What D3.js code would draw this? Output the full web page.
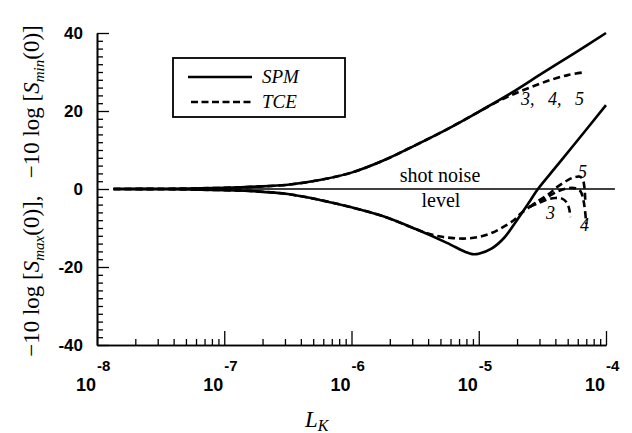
<!DOCTYPE html>
<html>
<head>
<meta charset="utf-8">
<script src="https://cdn.jsdelivr.net/npm/d3@7"></script>
<style>
  body { margin: 0; background: #fff; }
  svg { display: block; }
  text { fill: #000; }
</style>
</head>
<body>
<svg id="chart" width="632" height="433"></svg>
<script>
// data: [log10(L_K), dB]
const spmUpper = [[-7.87, 0], [-7.5, 0.05], [-7, 0.3], [-6.75, 0.6], [-6.5, 1.1], [-6.25, 2.3],
  [-6, 4.2], [-5.75, 7.3], [-5.5, 11.2], [-5.25, 15.3], [-5, 19.8], [-4.75, 24.5],
  [-4.5, 29.7], [-4.25, 34.8], [-4, 40]];
const spmLower = [[-7.87, 0], [-7.5, -0.05], [-7, -0.3], [-6.75, -0.6], [-6.5, -1.3], [-6.25, -2.8],
  [-6, -4.7], [-5.75, -7.0], [-5.5, -10.2], [-5.25, -13.8], [-5.1, -16.2], [-5.05, -16.7],
  [-5, -16.6], [-4.9, -15.3], [-4.8, -12.5], [-4.7, -8.0], [-4.6, -3.2], [-4.535, 0],
  [-4.4, 5.4], [-4.25, 11.4], [-4, 21.5]];
const tceUpper = [[-7.87, 0], [-7.5, 0.05], [-7, 0.3], [-6.75, 0.6], [-6.5, 1.1], [-6.25, 2.3],
  [-6, 4.2], [-5.75, 7.3], [-5.5, 11.2], [-5.25, 15.3], [-5, 19.8], [-4.9, 21.6],
  [-4.75, 24.0], [-4.6, 26.0], [-4.45, 27.8], [-4.3, 29.2], [-4.16, 30.0]];
const tceLowerCommon = [[-7.87, 0], [-7.5, -0.05], [-7, -0.3], [-6.75, -0.6], [-6.5, -1.3],
  [-6.25, -2.8], [-6, -4.7], [-5.75, -7.0], [-5.5, -10.2], [-5.4, -11.4], [-5.3, -12.2],
  [-5.2, -12.6], [-5.1, -12.7], [-5, -12.3], [-4.9, -11.3], [-4.8, -9.6], [-4.72, -7.9],
  [-4.67, -6.3], [-4.6, -4.6]];
const tce3 = [[-4.6, -4.6], [-4.53, -3.6], [-4.45, -2.6], [-4.4, -2.3], [-4.35, -2.4],
  [-4.31, -3.4], [-4.29, -5.0], [-4.28, -7.2]];
const tce4 = [[-4.6, -4.6], [-4.53, -3.3], [-4.45, -1.9], [-4.38, -0.6], [-4.3, 0.2],
  [-4.24, 0.2], [-4.2, -0.6], [-4.18, -2.5], [-4.165, -5.5], [-4.155, -9.0]];
const tce5 = [[-4.6, -4.6], [-4.53, -3.0], [-4.45, -1.3], [-4.38, 0.6], [-4.3, 2.3],
  [-4.24, 3.1], [-4.2, 3.1], [-4.18, 2.2], [-4.17, 0.5], [-4.165, -1.5], [-4.163, -3]];
const shotNoise = [[-7.87, 0], [-3.93, 0]];

const xTicks = [1e-8, 1e-7, 1e-6, 1e-5, 1e-4];
const xExponents = ["-8", "-7", "-6", "-5", "-4"];
const yTicks = [-40, -20, 0, 20, 40];
const legendNames = ["SPM", "TCE"];

const svg = d3.select("#chart");

// scales
const x = d3.scaleLog().domain([1e-8, 1e-4]).range([97, 606]);
const y = d3.scaleLinear().domain([-40, 40]).range([345, 33]);

const line = d3.line()
  .x(d => x(Math.pow(10, d[0])))
  .y(d => y(d[1]))
  .curve(d3.curveCatmullRom.alpha(0.5));

// minor tick values
const xMinor = [];
for (let e = -8; e < -4; e++) {
  for (let m = 2; m <= 9; m++) xMinor.push(m * Math.pow(10, e));
}
const yMinor = d3.range(-40, 41, 2).filter(v => v % 20 !== 0);

const axisStyle = g => {
  g.selectAll("path").attr("stroke", "#000").attr("stroke-width", 1.6);
  g.selectAll("line").attr("stroke", "#000").attr("stroke-width", 1.3);
};

// y axis
svg.append("g")
  .attr("transform", "translate(97,0)")
  .call(d3.axisLeft(y).tickValues(yMinor).tickSizeInner(-6).tickSizeOuter(0).tickFormat(""))
  .call(axisStyle);
svg.append("g")
  .attr("transform", "translate(97,0)")
  .call(d3.axisLeft(y).tickValues(yTicks).tickSizeInner(-12).tickSizeOuter(0).tickPadding(14))
  .call(axisStyle)
  .call(g => g.selectAll("text")
    .attr("font-family", "'Liberation Sans', Arial, sans-serif")
    .attr("font-weight", "bold")
    .attr("font-size", 17)
    .attr("fill", "#000")
    .text(d => d < 0 ? "-" + Math.abs(d) : d));

// x axis
svg.append("g")
  .attr("transform", "translate(0,345)")
  .call(d3.axisBottom(x).tickValues(xMinor).tickSizeInner(-6).tickSizeOuter(0).tickFormat(""))
  .call(axisStyle);
svg.append("g")
  .attr("transform", "translate(0,345)")
  .call(d3.axisBottom(x).tickValues(xTicks).tickSizeInner(-14).tickSizeOuter(0).tickFormat(""))
  .call(axisStyle);

const xLabels = svg.append("g")
  .attr("font-family", "'Liberation Sans', Arial, sans-serif")
  .attr("font-weight", "bold");
xTicks.forEach((t, i) => {
  xLabels.append("text")
    .attr("x", x(t) - 1)
    .attr("y", 391)
    .attr("text-anchor", "end")
    .attr("font-size", 18)
    .text("10");
  xLabels.append("text")
    .attr("x", x(t))
    .attr("y", 371)
    .attr("font-size", 15)
    .text(xExponents[i]);
});

// shot noise level
svg.append("path")
  .datum(shotNoise)
  .attr("fill", "none")
  .attr("stroke", "#000")
  .attr("stroke-width", 1.7)
  .attr("d", d3.line().x(d => x(Math.pow(10, d[0]))).y(d => y(d[1])));

// curves
const solid = [spmUpper, spmLower];
const dashed = [tceUpper, tceLowerCommon, tce3, tce4, tce5];

svg.append("g").selectAll("path")
  .data(solid)
  .join("path")
  .attr("fill", "none")
  .attr("stroke", "#000")
  .attr("stroke-width", 2.6)
  .attr("d", line);

svg.append("g").selectAll("path")
  .data(dashed)
  .join("path")
  .attr("fill", "none")
  .attr("stroke", "#000")
  .attr("stroke-width", 2.6)
  .attr("stroke-dasharray", "7,4")
  .attr("d", line);

// annotations
const serif = "'Liberation Serif', 'Times New Roman', serif";
const notes = svg.append("g").attr("font-family", serif).attr("fill", "#000");
notes.append("text").attr("x", 440).attr("y", 182).attr("text-anchor", "middle")
  .attr("font-size", 20).text("shot noise");
notes.append("text").attr("x", 441).attr("y", 207).attr("text-anchor", "middle")
  .attr("font-size", 20).text("level");
notes.append("text").attr("x", 521).attr("y", 105).attr("font-size", 18)
  .attr("font-style", "italic").attr("xml:space", "preserve").text("3,   4,   5");
notes.append("text").attr("x", 546).attr("y", 219).attr("font-size", 18)
  .attr("font-style", "italic").text("3");
notes.append("text").attr("x", 580).attr("y", 231).attr("font-size", 18)
  .attr("font-style", "italic").text("4");
notes.append("text").attr("x", 578).attr("y", 178).attr("font-size", 18)
  .attr("font-style", "italic").text("5");

// legend
const legend = svg.append("g");
legend.append("rect")
  .attr("x", 173).attr("y", 58)
  .attr("width", 172).attr("height", 59)
  .attr("fill", "#fff")
  .attr("stroke", "#000")
  .attr("stroke-width", 1.8);
legendNames.forEach((name, i) => {
  const ly = 77 + i * 25;
  legend.append("line")
    .attr("x1", i ? 191 : 188).attr("x2", 252)
    .attr("y1", ly).attr("y2", ly)
    .attr("stroke", "#000")
    .attr("stroke-width", 2.6)
    .attr("stroke-dasharray", i ? "7,3.5" : null);
  legend.append("text")
    .attr("x", 262).attr("y", ly + 6)
    .attr("font-family", serif)
    .attr("font-style", "italic")
    .attr("font-size", 19)
    .attr("fill", "#000")
    .text(name);
});

// axis titles
const xTitle = svg.append("text")
  .attr("x", 305).attr("y", 427)
  .attr("font-family", serif)
  .attr("font-style", "italic")
  .attr("font-size", 23)
  .attr("fill", "#000");
xTitle.append("tspan").text("L");
xTitle.append("tspan").attr("font-size", 16).attr("dy", 4).text("K");

const yTitle = svg.append("text")
  .attr("transform", "translate(39,191) rotate(-90)")
  .attr("text-anchor", "middle")
  .attr("font-family", serif)
  .attr("font-size", 23)
  .attr("fill", "#000")
  .attr("xml:space", "preserve");
const addPart = (txt, opts = {}) => {
  const t = yTitle.append("tspan").text(txt);
  if (opts.italic) t.attr("font-style", "italic");
  if (opts.size) t.attr("font-size", opts.size);
  if (opts.dy) t.attr("dy", opts.dy);
};
addPart("\u221210 log [");
addPart("S", { italic: true });
addPart("max", { italic: true, size: 15, dy: 5 });
addPart("(0)],   \u221210 log [", { dy: -5 });
addPart("S", { italic: true });
addPart("min", { italic: true, size: 15, dy: 5 });
addPart("(0)]", { dy: -5 });
</script>
</body>
</html>
